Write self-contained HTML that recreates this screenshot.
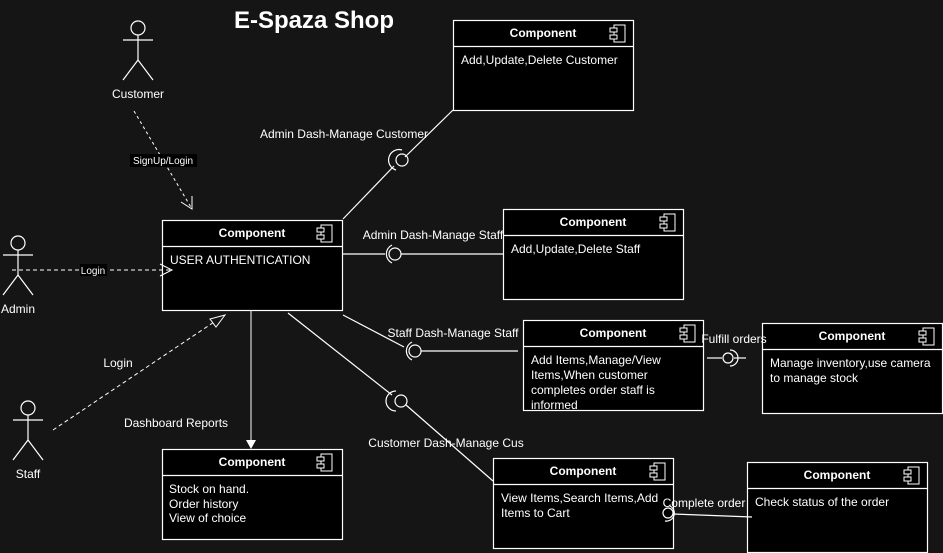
<!DOCTYPE html>
<html><head><meta charset="utf-8"><style>
html,body{margin:0;padding:0;background:#151515;}
svg{display:block;}
text{font-family:"Liberation Sans",Arial,sans-serif;fill:#fff;}
</style></head><body>
<svg width="943" height="553" viewBox="0 0 943 553" xmlns="http://www.w3.org/2000/svg">
<rect width="943" height="553" fill="#151515"/>
<defs>
<g id="ic" fill="#000" stroke="#fff" stroke-width="1">
<rect x="4" y="0" width="11" height="17"/>
<rect x="0" y="3" width="7" height="4"/>
<rect x="0" y="10" width="7" height="4"/>
</g>
</defs>
<text x="314" y="28" font-size="24" font-weight="bold" text-anchor="middle">E-Spaza Shop</text>

<!-- components -->
<g stroke="#fff" stroke-width="1.2" fill="#000">
<rect x="453.5" y="20.5" width="180" height="90"/><line x1="453" y1="46.5" x2="633" y2="46.5"/>
<rect x="162.5" y="220.5" width="180" height="90"/><line x1="162" y1="246.5" x2="342" y2="246.5"/>
<rect x="503.5" y="209.5" width="180" height="90"/><line x1="503" y1="235.5" x2="683" y2="235.5"/>
<rect x="523.5" y="320.5" width="180" height="90"/><line x1="523" y1="346.5" x2="703" y2="346.5"/>
<rect x="762.5" y="323.5" width="180" height="90"/><line x1="762" y1="349.5" x2="942" y2="349.5"/>
<rect x="162.5" y="449.5" width="180" height="90"/><line x1="162" y1="475.5" x2="342" y2="475.5"/>
<rect x="493.5" y="458.5" width="180" height="90"/><line x1="493" y1="484.5" x2="673" y2="484.5"/>
<rect x="747.5" y="462.5" width="180" height="90"/><line x1="747" y1="488.5" x2="927" y2="488.5"/>
</g>
<use href="#ic" x="610" y="25"/><use href="#ic" x="317" y="225"/><use href="#ic" x="660" y="214"/>
<use href="#ic" x="680" y="325"/><use href="#ic" x="919" y="328"/><use href="#ic" x="317" y="454"/>
<use href="#ic" x="650" y="463"/><use href="#ic" x="904" y="467"/>
<g font-size="12" font-weight="bold" text-anchor="middle">
<text x="543" y="37">Component</text><text x="252" y="237">Component</text>
<text x="593" y="226">Component</text><text x="613" y="337">Component</text>
<text x="852" y="340">Component</text><text x="252" y="466">Component</text>
<text x="583" y="475">Component</text><text x="837" y="479">Component</text>
</g>
<g font-size="12">
<text x="461" y="64">Add,Update,Delete Customer</text>
<text x="170" y="264">USER AUTHENTICATION</text>
<text x="511" y="253">Add,Update,Delete Staff</text>
<text x="531" y="364">Add Items,Manage/View</text><text x="531" y="379">Items,When customer</text>
<text x="531" y="394">completes order staff is</text><text x="531" y="409">informed</text>
<text x="770" y="367">Manage inventory,use camera</text><text x="770" y="382">to manage stock</text>
<text x="169" y="493">Stock on hand.</text><text x="169" y="508">Order history</text><text x="169" y="522">View of choice</text>
<text x="501" y="502">View Items,Search Items,Add</text><text x="501" y="517">Items to Cart</text>
<text x="755" y="506">Check status of the order</text>
</g>

<!-- actors -->
<g stroke="#fff" stroke-width="1.2" fill="none">
<circle cx="138" cy="28" r="7"/><line x1="138" y1="35" x2="138" y2="60"/><line x1="123" y1="40" x2="153" y2="40"/>
<polyline points="123,80 138,60 153,80"/>
<circle cx="18" cy="243" r="7"/><line x1="18" y1="250" x2="18" y2="275"/><line x1="3" y1="255" x2="33" y2="255"/>
<polyline points="3,295 18,275 33,295"/>
<circle cx="28" cy="408" r="7"/><line x1="28" y1="415" x2="28" y2="440"/><line x1="13" y1="420" x2="43" y2="420"/>
<polyline points="13,460 28,440 43,460"/>
</g>
<g font-size="12" text-anchor="middle">
<text x="138" y="98">Customer</text><text x="18" y="313">Admin</text><text x="28" y="478">Staff</text>
</g>

<!-- dashed connectors -->
<g stroke="#fff" stroke-width="1" fill="none">
<line x1="134" y1="111" x2="192" y2="209" stroke-dasharray="3,3"/>
<polyline points="181,202 192,209 192,196"/>
<line x1="12" y1="270" x2="171" y2="270" stroke-dasharray="4,3"/>
<polyline points="160,264 172,270 160,276"/>
<line x1="53" y1="430" x2="220" y2="318" stroke-dasharray="4,3"/>
<polygon points="225,315 210,319 216,327" fill="#151515"/>
<line x1="251" y1="310" x2="251" y2="443"/>
</g>
<polygon points="251,449 246,440 256,440" fill="#fff"/>
<rect x="130" y="154" width="67" height="13" fill="#000"/>
<text x="163" y="164" font-size="10" text-anchor="middle">SignUp/Login</text>
<rect x="80" y="264" width="27" height="12" fill="#000"/>
<text x="93" y="274" font-size="10" text-anchor="middle">Login</text>
<g font-size="12" text-anchor="middle">
<text x="118" y="367">Login</text>
<text x="176" y="427">Dashboard Reports</text>
<text x="344" y="138">Admin Dash-Manage Customer</text>
<text x="433" y="239">Admin Dash-Manage Staff</text>
<text x="453" y="337">Staff Dash-Manage Staff</text>
<text x="446" y="447">Customer Dash-Manage Cus</text>
<text x="734" y="343">Fulfill orders</text>
<text x="704" y="507">Complete order</text>
</g>

<!-- lollipop connectors -->
<g stroke="#fff" stroke-width="1.2" fill="none">
<line x1="343" y1="219" x2="394" y2="166"/>
<line x1="453" y1="110" x2="405" y2="157"/>
<circle cx="402" cy="160" r="6"/><path d="M402,150 A10,10 0 0 0 396,170"/>
<line x1="343" y1="254" x2="385" y2="254"/>
<circle cx="395" cy="254" r="6" fill="#151515"/><path d="M392,245 A10,10 0 0 0 392,263"/>
<line x1="401" y1="254" x2="503" y2="254"/>
<line x1="343" y1="315" x2="404" y2="347"/>
<circle cx="415" cy="351" r="6"/><path d="M412,342 A10,10 0 0 0 412,360"/>
<line x1="421" y1="351" x2="518" y2="351"/>
<line x1="288" y1="313" x2="392" y2="395"/>
<circle cx="401" cy="401" r="6"/><path d="M396,391 A10,10 0 0 0 396,411"/>
<line x1="406" y1="405" x2="493" y2="481"/>
<line x1="707" y1="358" x2="722" y2="358"/>
<circle cx="728" cy="358" r="5"/><path d="M730,350 A8,8 0 0 1 730,366"/>
<line x1="734" y1="358" x2="746" y2="358"/>
<circle cx="668" cy="513" r="5"/><path d="M665,521 A8,8 0 0 0 670,506"/>
<line x1="673" y1="514" x2="752" y2="517"/>
</g>
</svg>
</body></html>
